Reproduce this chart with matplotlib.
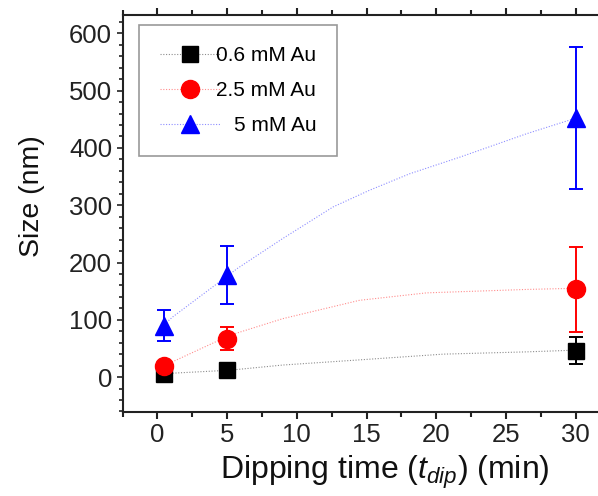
import matplotlib
matplotlib.use("Agg")
import matplotlib.pyplot as plt
from matplotlib.colors import to_rgba
from matplotlib.ticker import MultipleLocator

plt.rcParams['font.family'] = ['Liberation Sans', 'DejaVu Sans']
plt.rcParams['mathtext.fontset'] = 'custom'
plt.rcParams['mathtext.rm'] = 'Liberation Sans'
plt.rcParams['mathtext.it'] = 'Liberation Sans:italic'

# ---- data ----
series_labels = ["0.6 mM Au", "2.5 mM Au", "5 mM Au"]
series_colors = ["black", "red", "blue"]
series_markers = ["s", "o", "^"]

t_dip = [0.5, 5, 30]
size_06 = [6, 12, 46]
err_06 = [4, 5, 24]
size_25 = [20, 67, 153]
err_25 = [5, 20, 74]
size_5 = [90, 178, 452]
err_5 = [27, 51, 124]

# fitted curves
fit_x_06 = [0.5, 5.2, 9.0, 14.5, 20.5, 26.5, 30]
fit_y_06 = [6, 12, 21, 30, 40, 44, 47]
fit_x_25 = [0.5, 5.2, 9.0, 14.5, 19.3, 26.5, 30]
fit_y_25 = [20, 73, 102, 134, 147, 153, 155]
fit_x_5 = [0.5, 1.1, 5.76, 9.0, 12.6, 15.2, 18.1, 21.7, 26.5, 30]
fit_y_5 = [92, 105, 190, 242, 297, 326, 355, 384, 425, 452]

x_ticks = [0, 5, 10, 15, 20, 25, 30]
y_ticks = [0, 100, 200, 300, 400, 500, 600]

fig = plt.figure(figsize=(5.98, 4.96), dpi=100)
ax = fig.add_axes([122.5 / 598, (496 - 412) / 496, (598 - 122.5) / 598, (412 - 14.5) / 496])

sizes = [size_06, size_25, size_5]
errs = [err_06, err_25, err_5]
fits_x = [fit_x_06, fit_x_25, fit_x_5]
fits_y = [fit_y_06, fit_y_25, fit_y_5]
msizes = [11.5, 13, 13.5]

handles = []
for lab, col, mk, s, e, fx, fy, ms in zip(series_labels, series_colors, series_markers,
                                          sizes, errs, fits_x, fits_y, msizes):
    light = to_rgba(col, 0.45)
    ax.plot(fx, fy, linestyle=(0, (1, 1.5)), color=light, lw=0.8, zorder=1)
    ax.errorbar(t_dip, s, yerr=e, fmt='none', ecolor=col, elinewidth=1.4,
                capsize=5, capthick=1.4, zorder=2)
    ax.plot(t_dip, s, linestyle='none', marker=mk, ms=ms, color=col, mec=col, zorder=3)
    h, = ax.plot([], [], linestyle=(0, (1, 1.5)), color=light, lw=0.8,
                 marker=mk, ms=ms, mec=col, mfc=col, label=lab)
    handles.append(h)

ax.set_xlim(-2.5, 31.6)
ax.set_ylim(-61, 633)
ax.set_xticks(x_ticks)
ax.set_yticks(y_ticks)
ax.xaxis.set_minor_locator(MultipleLocator(2.5))
ax.yaxis.set_minor_locator(MultipleLocator(20))

ax.spines['right'].set_visible(False)
for sp in ['left', 'bottom', 'top']:
    ax.spines[sp].set_linewidth(1.5)
    ax.spines[sp].set_color('#222222')

ax.tick_params(axis='x', which='both', direction='out', top=True, labeltop=False,
               labelsize=18.5, colors='#222222', width=1.5)
ax.tick_params(axis='x', which='major', length=5, pad=3)
ax.tick_params(axis='x', which='minor', length=3.5)
ax.tick_params(axis='y', which='both', direction='out', right=False,
               labelsize=18.5, colors='#222222', width=1.2)
ax.tick_params(axis='y', which='major', length=4.5, pad=3)
ax.tick_params(axis='y', which='minor', length=3)

ax.set_xlabel(r'Dipping time ($t_{dip}$) (min)', fontsize=23, color='#111111')
ax.set_ylabel('Size (nm)', fontsize=20.5, color='#111111')
ax.xaxis.set_label_coords(0.552, -0.105)
ax.yaxis.set_label_coords(-0.163, 0.543)

leg = ax.legend(handles=handles, loc='upper left', bbox_to_anchor=(0.0347, 0.9736),
                borderaxespad=0, fontsize=15, frameon=True, fancybox=False,
                edgecolor='#999999', framealpha=1, handlelength=2.9,
                labelspacing=0.78, borderpad=1.0, handletextpad=-0.2)
leg.get_frame().set_linewidth(1.2)

# right-align legend texts
fig.canvas.draw()
texts = leg.get_texts()
widths = [t.get_window_extent().width for t in texts]
maxw = max(widths)
for t, w in zip(texts, widths):
    t.set_x(maxw - w)

fig.savefig("out.png", dpi=100)
